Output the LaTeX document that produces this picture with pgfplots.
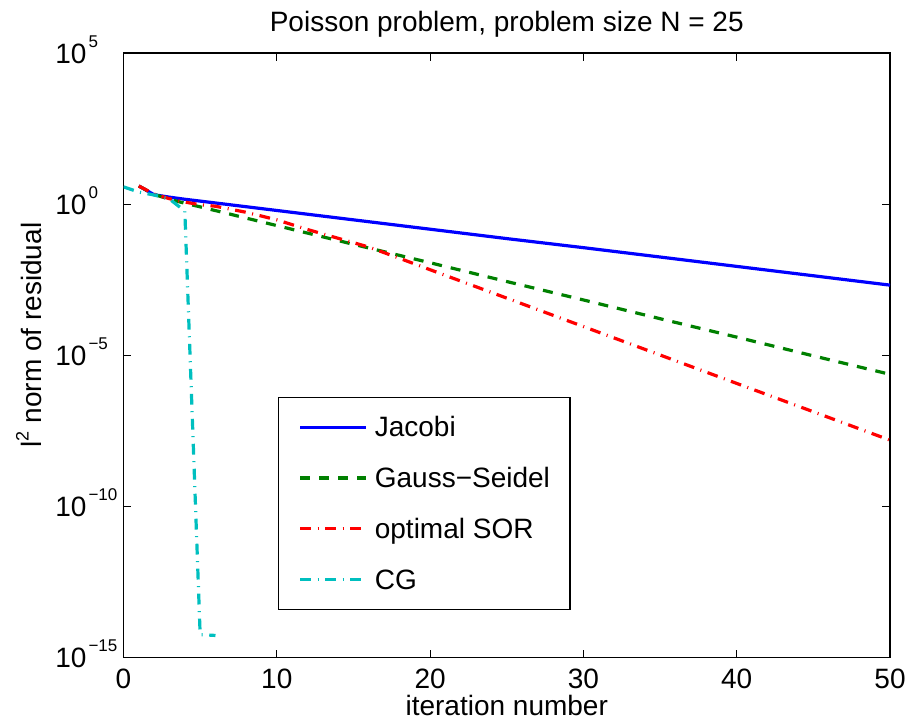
\documentclass[border=0pt]{standalone}
\usepackage{fontspec}
\setmainfont{Liberation Sans}
\usepackage{pgfplots}
\pgfplotsset{compat=1.18}

\definecolor{mblue}{rgb}{0,0,1}
\definecolor{mgreen}{rgb}{0,0.5,0}
\definecolor{mred}{rgb}{1,0,0}
\definecolor{mcyan}{rgb}{0,0.75,0.75}

\newcommand\fs{\fontsize{14}{17}\selectfont}
\newcommand\ex[1]{\kern1pt\raisebox{8pt}{\fontsize{8.5}{9}\selectfont #1}}

\begin{document}
\begin{tikzpicture}
\begin{axis}[
    scale only axis,
    width=383.25pt, height=302.25pt,
    xmin=0, xmax=50,
    ymode=log, ymin=1e-15, ymax=1e5,
    axis line style={line width=0.6pt},
    every tick/.style={black, line width=0.5pt},
    major tick length=3.8pt,
    tick align=inside,
    xtick={0,10,20,30,40,50},
    ytick={1e-15,1e-10,1e-5,1,1e5},
    yticklabels={10\ex{−15},10\ex{−10},10\ex{−5},10\ex{0},10\ex{5}},
    minor tick num=0,
    /pgf/number format/assume math mode=true,
    xticklabel style={font=\fs, anchor=base, yshift=-15.4pt},
    yticklabel style={font=\fs, anchor=base west, inner sep=0pt, xshift=-34.25pt, yshift=-5.15pt},
    every axis title shift=0pt,
    title={Poisson problem, problem size N = 25},
    title style={font=\fs, at={(axis description cs:0.5,1)}, anchor=base, yshift=11pt},
    xlabel={iteration number},
    xlabel style={font=\fs, at={(axis description cs:0.5,0)}, anchor=base, yshift=-28.75pt},
    ylabel={l\raisebox{6.5pt}{\fontsize{9}{9}\selectfont 2} norm of residual},
    ylabel style={font=\fs, at={(axis description cs:-0.1067,0.5335)}, anchor=base},
    legend cell align=left,
    legend image code/.code={\draw[#1] (0pt,0pt) -- (33pt,0pt);},
    legend style={
        at={(rel axis cs:0.2016,0.431)}, anchor=north west,
        draw=black, line width=0.6pt, fill=white,
        inner xsep=10pt, inner ysep=8.6pt,
        row sep=13pt, column sep=3.5pt,
        font=\fs,
        nodes={inner sep=0pt, text height=11pt, text depth=1.4pt},
    },
]
\addplot[mblue, line width=1.6pt] coordinates {
  (1,3.98) (2,2.04) (3,1.70) (4,1.45) (5,1.26) (10,0.617) (15,0.302)
  (20,0.148) (25,0.0724) (30,0.0363) (35,0.0178) (40,8.71e-3)
  (45,4.27e-3) (50,2.09e-3)
};
\addlegendentry{Jacobi}
\addplot[mgreen, line width=1.6pt, dash pattern=on 5pt off 4.5pt] coordinates {
  (1,3.98) (2,2.09) (3,1.45) (4,1.07) (5,0.813) (10,0.195) (15,0.0468)
  (20,0.0115) (25,2.75e-3) (30,6.76e-4) (35,1.62e-4) (40,3.98e-5)
  (45,9.55e-6) (50,2.34e-6)
};
\addlegendentry{Gauss−Seidel}
\addplot[mred, line width=1.6pt, dash pattern=on 5.4pt off 3.3pt on 0.5pt off 3.3pt] coordinates {
  (1,3.98) (2,2.14) (3,1.51) (4,1.17) (5,0.955) (6,0.851) (8,0.537)
  (10,0.302) (12,0.145) (14,0.0741) (16,0.0380) (18,0.0162) (20,6.76e-3)
  (25,7.76e-4) (30,8.91e-5) (35,1.02e-5) (40,1.17e-6) (45,1.35e-7)
  (50,1.55e-8)
};
\addlegendentry{optimal SOR}
\addplot[mcyan, line width=1.6pt, dash pattern=on 5.4pt off 3.3pt on 0.5pt off 3.3pt] coordinates {
  (0,3.72) (1,2.51) (2,2.0) (3,1.48) (4,0.589) (5,5.75e-15) (6,5.37e-15)
};
\addlegendentry{CG}
\coordinate (ll) at (rel axis cs:0,0);
\coordinate (ur) at (rel axis cs:1,1);
\end{axis}
\pgfresetboundingbox
\path ([xshift=-61.75pt,yshift=-32.75pt]ll) rectangle ([xshift=8pt,yshift=26.5pt]ur);
\end{tikzpicture}
\end{document}
